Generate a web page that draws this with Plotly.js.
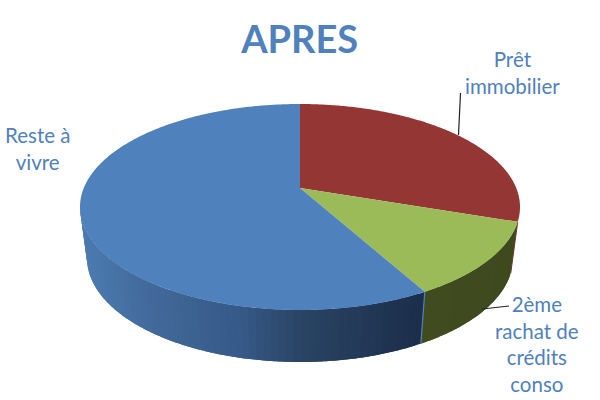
<!DOCTYPE html>
<html>
<head>
<meta charset="utf-8">
<script src="https://cdn.plot.ly/plotly-3.0.1.min.js"></script>
<style>html,body{margin:0;padding:0;background:#fff}#c{width:600px;height:400px}</style>
</head>
<body>
<div id="c"></div>
<script>
const chartTitle = 'APRES';
const categories = ['Prêt immobilier', '2ème rachat de crédits conso', 'Reste à vivre'];
const values = [27.3, 13.1, 59.6];
const topColors = ['#943634', '#9BBB59', '#4F81BD'];
const labelTexts = ['Prêt<br>immobilier', '2ème<br>rachat de<br>crédits<br>conso', 'Reste à<br>vivre'];

// projection of the tilted disc onto the page (axes run in page units)
const apex = {x: 300, y: 188};
const topRim = {x: 300, y: 207, rx: 220, ry: 103};
const botRim = {x: 300, y: 258, rx: 213, ry: 104};
const rad = d => d * Math.PI / 180;
const onRim = (r, d) => [r.x + r.rx * Math.sin(rad(d)), r.y - r.ry * Math.cos(rad(d))];

const total = values.reduce((a, b) => a + b, 0);
const bounds = [0];
values.forEach(v => bounds.push(bounds[bounds.length - 1] + v / total * 360));

// shading of the wall, from light on the left to dark on the right
const blueStops = [[85, [76,124,178]], [150, [67,106,155]], [240, [54,90,137]], [300, [42,68,100]], [420, [27,46,74]]];
const greenStops = [[425, [64,76,32]], [515, [62,74,30]]];
function shade(x, stops) {
  if (x <= stops[0][0]) return stops[0][1];
  for (let i = 1; i < stops.length; i++) {
    if (x <= stops[i][0]) {
      const f = (x - stops[i-1][0]) / (stops[i][0] - stops[i-1][0]);
      return stops[i-1][1].map((c, k) => c + (stops[i][1][k] - c) * f);
    }
  }
  return stops[stops.length - 1][1];
}
const css = c => 'rgb(' + c.map(Math.round).join(',') + ')';

const traces = [];
function poly(pts, color) {
  traces.push({
    type: 'scatter', mode: 'none', fill: 'toself', fillcolor: color,
    x: pts.map(p => p[0]), y: pts.map(p => p[1]),
    hoverinfo: 'skip', showlegend: false
  });
}
// each band reaches past its neighbour and the next one paints over it, so no seams show
function wall(from, to, stops) {
  const n = Math.max(2, Math.round((to - from) / 2));
  const arc = (r, a, b) => { const o = []; for (let k = 0; k <= 6; k++) o.push(onRim(r, a + (b - a) * k / 6)); return o; };
  for (let i = 0; i < n; i++) {
    const a = from + (to - from) * i / n;
    const b = Math.min(to, from + (to - from) * (i + 2) / n);
    const mid = onRim(botRim, a + (to - from) / n / 2);
    poly(arc(topRim, a, b).concat(arc(botRim, a, b).reverse()), css(shade(mid[0], stops)));
  }
}
wall(bounds[1], bounds[2], greenStops);
wall(bounds[2], bounds[3] > 270 ? 270 : bounds[3], blueStops);

// thin edges of the wall
[[bounds[2], '#4F81BD', 1.2], [bounds[1], '#6b3a30', 1]].forEach(e => {
  const a = onRim(topRim, e[0]), b = onRim(botRim, e[0]);
  traces.push({type: 'scatter', mode: 'lines', x: [a[0], b[0]], y: [a[1], b[1]],
    line: {color: e[1], width: e[2]}, hoverinfo: 'skip', showlegend: false});
});

// top faces
values.forEach((v, i) => {
  const pts = [[apex.x, apex.y]];
  for (let d = bounds[i]; d < bounds[i+1]; d += 0.5) pts.push(onRim(topRim, d));
  pts.push(onRim(topRim, bounds[i+1]));
  pts.push([apex.x, apex.y]);
  poly(pts, topColors[i]);
});

const labelFont = {family: 'Lato, Carlito, sans-serif', size: 20.5, color: '#4F81BD'};
const layout = {
  width: 600, height: 400,
  margin: {l: 0, r: 0, t: 0, b: 0},
  paper_bgcolor: '#fff', plot_bgcolor: '#fff',
  showlegend: false, hovermode: false,
  title: {text: '<b>' + chartTitle + '</b>', x: 0.4995, xanchor: 'center', y: 0.902, yanchor: 'middle',
    font: {family: 'Lato, Carlito, sans-serif', size: 38, color: '#4F81BD'}},
  xaxis: {range: [0, 600], visible: false, fixedrange: true},
  yaxis: {range: [400, 0], visible: false, fixedrange: true},
  annotations: [
    {text: labelTexts[0], x: 512, y: 72},
    {text: labelTexts[1], x: 537, y: 344},
    {text: labelTexts[2], x: 37, y: 148}
  ].map(a => Object.assign(a, {xref: 'x', yref: 'y', showarrow: false, xanchor: 'center', yanchor: 'middle', align: 'center', font: labelFont})),
  shapes: [
    {type: 'line', x0: 458.5, y0: 135, x1: 460.5, y1: 93, line: {color: '#222', width: 1.2}},
    {type: 'line', x0: 482, y0: 309, x1: 509, y1: 306, line: {color: '#222', width: 1.2}}
  ]
};
Plotly.newPlot('c', traces, layout, {displayModeBar: false, staticPlot: true});
</script>
</body>
</html>
